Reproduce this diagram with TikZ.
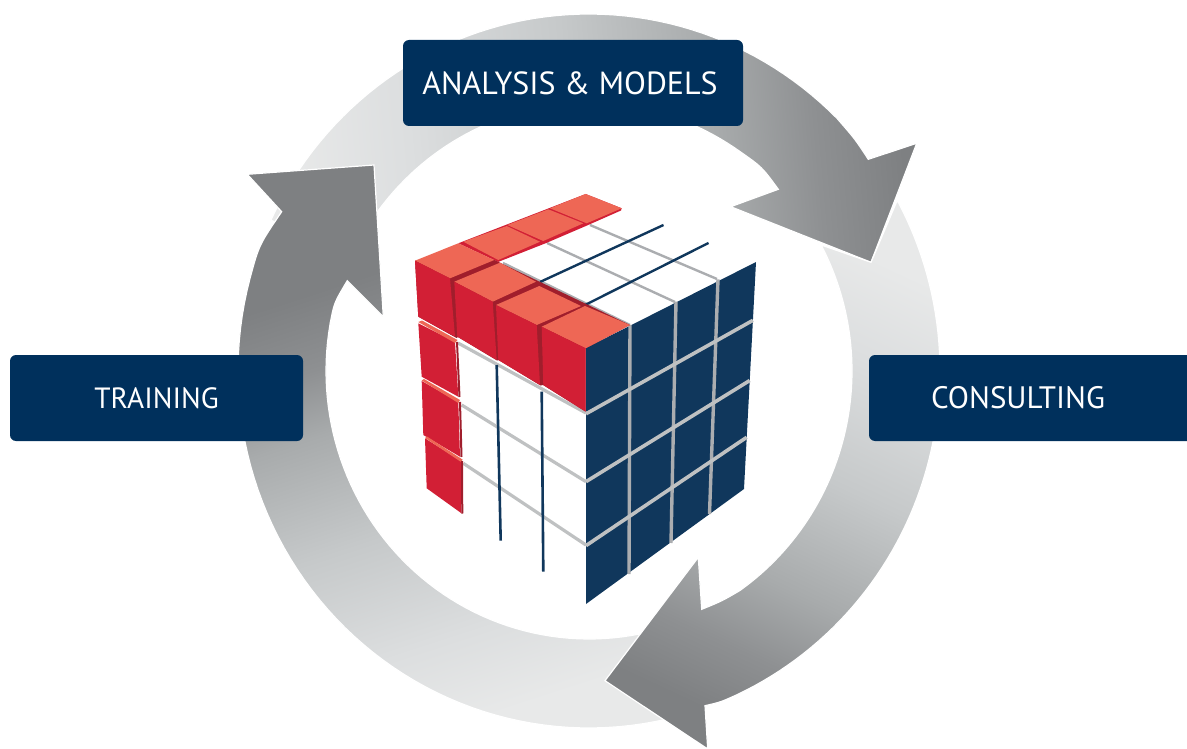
\documentclass[tikz,border=0pt]{standalone}
\usepackage{fontspec}
\setmainfont{PT Sans}
\usetikzlibrary{calc}
\definecolor{boxblue}{HTML}{00305C}
\definecolor{tilenavy}{HTML}{10375C}
\definecolor{gapgrey}{HTML}{ABADB0}
\definecolor{leftgrey}{HTML}{BFC1C2}
\definecolor{crimson}{HTML}{D21F35}
\definecolor{darkred}{HTML}{A01E2C}
\definecolor{coral}{HTML}{EE6755}
\definecolor{fadea}{RGB}{232,233,233}
\definecolor{fadeb}{RGB}{220,222,223}
\definecolor{fadec}{RGB}{198,201,202}
\definecolor{faded}{RGB}{168,171,172}
\definecolor{fadee}{RGB}{142,144,146}
\definecolor{fadef}{RGB}{126,128,130}
\pgfdeclareverticalshading{ringfade}{100bp}{
  color(0bp)=(fadea);
  color(25bp)=(fadea);
  color(35bp)=(fadeb);
  color(48bp)=(fadec);
  color(60bp)=(faded);
  color(68bp)=(fadee);
  color(75bp)=(fadef);
  color(100bp)=(fadef)}
\pgfdeclareverticalshading{ringfadeleft}{100bp}{
  color(0bp)=(fadea);
  color(25bp)=(fadea);
  color(33bp)=(fadeb);
  color(44bp)=(fadec);
  color(55bp)=(faded);
  color(61bp)=(fadee);
  color(68bp)=(fadef);
  color(100bp)=(fadef)}
\tikzset{
  ringarrow/.style={shade,shading=ringfade,draw=white,line width=1.2pt,line join=miter},
  labelbox/.style={fill=boxblue,rounded corners=6pt,text=white,inner sep=0pt,
    minimum height=86pt},
  greyline/.style={draw=gapgrey,line width=2.4pt},
  navyline/.style={draw=tilenavy,line width=2.4pt},
  sideline/.style={draw=leftgrey,line width=3.2pt},
  sidenavy/.style={draw=tilenavy,line width=2.6pt},
  seam/.style={draw=darkred,line width=2pt}
}
\begin{document}
\begin{tikzpicture}[x=1pt,y=-1pt]
\useasboundingbox (0,0) rectangle (1187,749);
% ---- ring of three arrows
\path[ringarrow,shading angle=-85]
  plot[domain=205:315,samples=60] ({589+351*cos(\x)},{371+357*sin(\x)})
  .. controls (855,139) .. (868.3,159.3) -- (916.7,143.3) -- (871,262.3) -- (730.7,206.7) -- (778.3,189.3)
  .. controls (762,167) .. (739.9,151.5)
  -- plot[domain=305:205,samples=60] ({589+263*cos(\x)},{371+268*sin(\x)}) -- cycle;
\path[ringarrow,shading=ringfadeleft,shading angle=18]
  plot[domain=75:195,samples=60] ({589+351*cos(\x)},{371+357*sin(\x)})
  .. controls (259,245) .. (281.7,211.7) -- (247.3,174.3) -- (374,165) -- (383.3,316.7) -- (347.3,280.7)
  .. controls (334,303) .. (330,324.5)
  -- plot[domain=190:75,samples=60] ({589+263*cos(\x)},{371+268*sin(\x)}) -- cycle;
\path[ringarrow,shading angle=155]
  (818.3,244) -- (871,262.3) -- (896.7,201.7)
  -- plot[domain=-28.4:65,samples=60] ({589+351*cos(\x)},{371+357*sin(\x)})
  .. controls (721,702) .. (705,705.7) -- (707.7,749) -- (605,680.7) -- (698.3,557.3) -- (701.7,609.3)
  .. controls (722,601) .. (739.9,590.5)
  -- plot[domain=55:-28.5,samples=60] ({589+263*cos(\x)},{371+268*sin(\x)}) -- cycle;
% ---- cube: right (navy) face
\foreach \c/\tx/\ty/\bx/\by in {0/586/348/586/604,1/630/325/629/574,2/676/301.7/671/543,3/718/279.3/709.5/514,4/756/262/744/489}{
  \foreach \r/\f in {0/0,1/0.257,2/0.522,3/0.772,4/1}{
    \coordinate (g\c\r) at ($(\tx,\ty)!\f!(\bx,\by)$);
  }
}
\fill[tilenavy] (g00) -- (g40) -- (g44) -- (g04) -- cycle;
\foreach \c in {1,2,3}{\draw[draw=gapgrey,line width=3.4pt] (g\c0) -- (g\c4);}
\foreach \r in {1,2,3}{\draw[draw=leftgrey,line width=3.6pt] (g0\r) -- (g4\r);}
% ---- cube: top face lines
\draw[greyline] (503,263) -- (630,325);
\draw[greyline] (547,243) -- (675,302);
\draw[greyline] (590,225) -- (717,279);
\draw[navyline] (540,282) -- (663.5,225);
\draw[navyline] (585,305) -- (708.5,243);
% ---- cube: left face lines
\draw[sideline] (458,343) -- (586,413);
\draw[sideline] (461.7,405) -- (586,481.7);
\draw[sideline] (463.3,463.3) -- (586,545);
\draw[sidenavy] (496.7,365) -- (500.7,540.7);
\draw[sidenavy] (541.7,391.7) -- (543.3,571.7);
% ---- cube: red back row on top
\fill[crimson] (458.3,243.3) -- (585.7,194) -- (621.7,208.3) -- (621,210.5) -- (587,225.5) -- (545,243.5) -- (498,262) -- (494,260) -- cycle;
\fill[coral] (463.3,241.7) -- (506.7,226) -- (540,241.7) -- (498.3,260) -- cycle;
\fill[coral] (507.3,225) -- (548.3,209.3) -- (583.3,223.3) -- (543.3,241) -- cycle;
\fill[coral] (550,208.3) -- (585.7,194) -- (621.7,208.3) -- (586.7,223.3) -- cycle;
% ---- cube: red front row
\fill[darkred] (415,260.7) -- (494.3,260) -- (630,325) -- (585.7,348.3) -- (585.7,411.7)
  -- (543,385) -- (540.5,385.5) -- (498.5,360) -- (497,360.5) -- (458,337) -- (456.5,338) -- (418.3,316.7) -- cycle;
\fill[coral] (415,260.7) -- (458.3,243.3) -- (494.3,260) -- (450,278.3) -- cycle;
\fill[coral] (454.3,281.7) -- (500,262.7) -- (536,281.7) -- (492.7,301.7) -- cycle;
\fill[coral] (496,305) -- (539.3,286) -- (581,306) -- (536.7,325) -- cycle;
\fill[coral] (541.7,326.7) -- (585,306) -- (630,325) -- (585.7,348.3) -- cycle;
\fill[crimson] (415,260.7) -- (450,278.3) -- (455,336.7) -- (418.3,316.7) -- cycle;
\fill[crimson] (454.3,281.7) -- (492.7,301.7) -- (496.7,360) -- (457.3,336.7) -- cycle;
\fill[crimson] (496,305) -- (536.7,325) -- (540,385) -- (498.3,360) -- cycle;
\fill[crimson] (541.7,326.7) -- (585.7,348.3) -- (585.7,411.7) -- (543.3,385) -- cycle;
% ---- cube: red left column
\fill[crimson] (418.3,323.3) -- (455,341.7) -- (458.3,396.7) -- (421.7,376.7) -- cycle;
\fill[coral] (418.3,322) -- (422,320.5) -- (457.5,340) -- (455,343) -- cycle;
\draw[seam] (457,342) -- (459.5,397);
\fill[crimson] (421.7,381) -- (458.3,402) -- (460,456.7) -- (423.3,435) -- cycle;
\fill[coral] (421.7,380.5) -- (424,379) -- (460,400) -- (458.3,403) -- cycle;
\draw[seam] (460,402) -- (461.5,457);
\fill[crimson] (425,438.3) -- (461,461) -- (461.5,513.3) -- (426.7,488.3) -- cycle;
\fill[coral] (425,438) -- (427,436.5) -- (462.5,459.5) -- (461,462) -- cycle;
\draw[seam] (462,461) -- (462.3,513.5);
% ---- labels
\node[labelbox,minimum width=340pt,font=\fontsize{32}{38}\selectfont] (analysis) at (573,83) {\hspace*{-6pt}ANALYSIS \& MODELS};
\node[labelbox,minimum width=293pt,font=\fontsize{29.3}{36}\selectfont] (training) at (156.5,398) {TRAINING};
\begin{scope}
\clip (0,0) rectangle (1187,749);
\node[labelbox,minimum width=340pt,font=\fontsize{31}{36}\selectfont] (consulting) at (1039,398) {\hspace*{-42pt}CONSULTING};
\end{scope}
\end{tikzpicture}
\end{document}
